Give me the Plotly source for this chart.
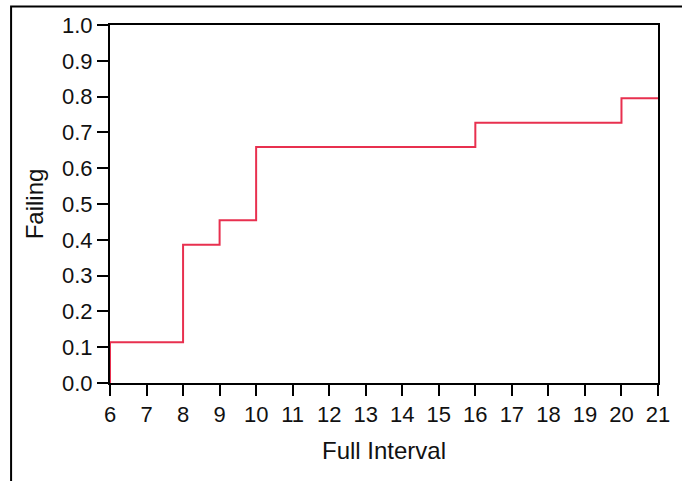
import plotly.graph_objects as go

x_vals = [6, 6, 8, 9, 10, 16, 20, 21]
y_vals = [0.0, 0.1136, 0.3864, 0.4545, 0.6591, 0.7273, 0.7955, 0.7955]
x_ticks = list(range(6, 22))
y_ticks = [round(i * 0.1, 1) for i in range(11)]

L, R, T, B = 110, 18, 24.5, 98
W, H = 682, 481
pw = W - L - R
ph = H - T - B

fig = go.Figure()
fig.add_trace(go.Scatter(x=x_vals, y=y_vals, mode="lines", line_shape="hv",
                         line=dict(color="#e8304f", width=2), hoverinfo="skip"))

tick_font = dict(family="Liberation Sans, Arial, sans-serif", size=22, color="#111")
title_font = dict(family="Liberation Sans, Arial, sans-serif", size=24, color="#111")
fig.update_layout(
    width=W, height=H, margin=dict(l=L, r=R, t=T, b=B, pad=0),
    paper_bgcolor="white", plot_bgcolor="white", showlegend=False,
    font=dict(family="Liberation Sans, Arial, sans-serif", size=20, color="#111"),
    xaxis=dict(range=[6, 21], tickvals=x_ticks, ticktext=[str(v) for v in x_ticks],
               showgrid=False, zeroline=False, showline=True, linecolor="black",
               linewidth=2, mirror=True, ticks="outside", ticklen=11, tickwidth=2,
               tickcolor="black", tickfont=tick_font,
               title=dict(text="Full Interval", standoff=16, font=title_font)),
    yaxis=dict(range=[0, 1], tickvals=y_ticks, ticktext=[f"{v:.1f}" for v in y_ticks],
               showgrid=False, zeroline=False, showline=True, linecolor="black",
               linewidth=2, mirror=True, ticks="outside", ticklen=11, tickwidth=2,
               tickcolor="black", tickfont=tick_font,
               title=dict(text="Failing", standoff=12, font=title_font)),
)

x0 = (10 - L) / pw
y1 = 1 + (T - 6) / ph
fig.add_shape(type="rect", xref="paper", yref="paper", x0=x0, x1=1.2, y0=-0.5, y1=y1,
              line=dict(color="black", width=2), fillcolor="rgba(0,0,0,0)", layer="above")

fig.write_html("out.html", config={"displayModeBar": False},
               post_script="document.body.style.margin='0';document.body.style.overflow='hidden';")
